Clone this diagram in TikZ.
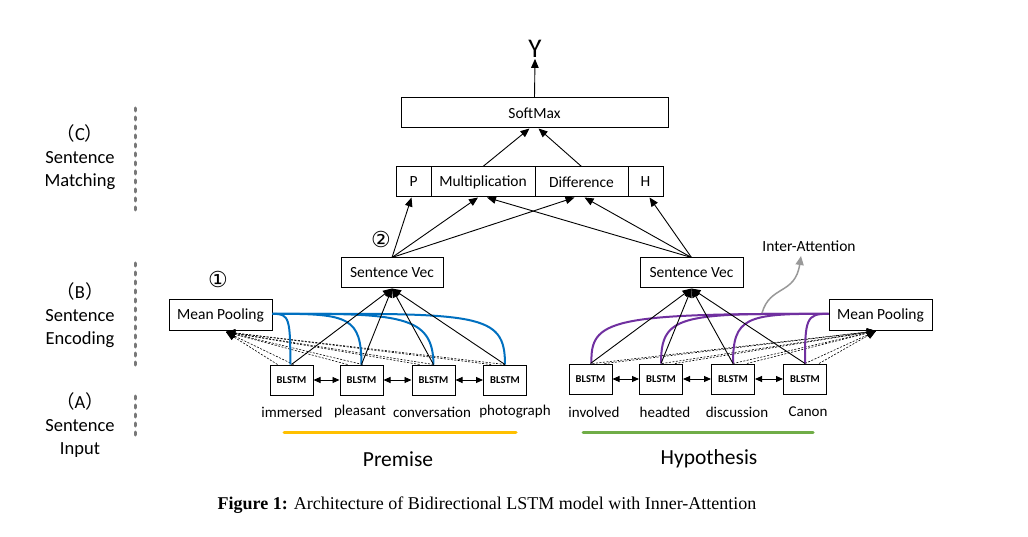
\documentclass[tikz,border=0pt]{standalone}
\usepackage{fontspec}
\setmainfont{Carlito}
\newfontfamily\tnr{Liberation Serif}
\newfontfamily\dvs{DejaVu Sans}
\newfontfamily\cjk{Noto Sans CJK SC}
\usetikzlibrary{arrows.meta,calc}
\definecolor{mpblue}{RGB}{0,112,192}
\definecolor{mppurple}{RGB}{112,48,160}
\definecolor{premyellow}{RGB}{255,192,0}
\definecolor{hypgreen}{RGB}{112,173,71}
\definecolor{dotgray}{RGB}{120,120,120}
\tikzset{
  box/.style={draw,line width=1pt,inner sep=0pt,font=\fontsize{15.5}{17}\selectfont},
  lstm/.style={draw,line width=1pt,minimum width=43pt,minimum height=30pt,inner sep=0pt,font=\fontsize{10.5}{12}\selectfont\bfseries},
  arr/.style={-{Triangle[length=9pt,width=7.5pt]},line width=0.9pt},
  darr/.style={{Triangle[length=7pt,width=6pt]}-{Triangle[length=7pt,width=6pt]},line width=0.9pt},
  dash arr/.style={-{Triangle[length=9pt,width=7.5pt]},line width=0.6pt,dash pattern=on 2pt off 1.5pt},
  word/.style={font=\fontsize{15}{17}\selectfont},
  side/.style={font=\fontsize{18.5}{23}\selectfont,align=center},
  dotline/.style={dotgray,line width=3pt,line cap=round,dash pattern=on 3pt off 6pt},
  blueline/.style={mpblue,line width=2pt},
  purpline/.style={mppurple,line width=2pt},
  circ/.style={font=\dvs\fontsize{22}{24}\selectfont},
}
\begin{document}
\begin{tikzpicture}[x=1pt,y=-1pt]
\useasboundingbox[fill=white] (0,0) rectangle (1028,537);

% side labels
\node[side] (lc) at (80,157) {{\cjk （}C{\cjk ）}\\Sentence\\Matching};
\node[side] (lb) at (80,315) {{\cjk （}B{\cjk ）}\\Sentence\\Encoding};
\node[side] (la) at (80,425) {{\cjk （}A{\cjk ）}\\Sentence\\Input};
\coordinate (dc1) at (135,108); \coordinate (dc2) at (135,213);
\coordinate (db1) at (135,263); \coordinate (db2) at (135,365);
\coordinate (da1) at (135,396); \coordinate (da2) at (135,440);
\draw[dotline] (dc1) -- (dc2);
\draw[dotline] (db1) -- (db2);
\draw[dotline] (da1) -- (da2);

% top
\node[font=\fontsize{27}{29}\selectfont,inner sep=1pt] (y) at (535,49) {Y};
\node[box,minimum width=267pt,minimum height=30pt] (soft) at (534.5,113) {SoftMax};
\node[box,minimum width=35pt,minimum height=30pt] (p) at (413.5,182) {P};
\node[box,minimum width=104pt,minimum height=30pt] (mul) at (483,182) {Multiplication};
\node[box,minimum width=93pt,minimum height=30pt] (dif) at (581.5,182) {Difference};
\node[box,minimum width=35pt,minimum height=30pt] (h) at (645.5,182) {H};
\draw[arr] (soft.north) -- (y.south);
\draw[arr] (mul.north) -- ($(soft.south)+(-5,0)$);
\draw[arr] (dif.north) -- ($(soft.south)+(4,0)$);

% sentence vectors
\node[box,minimum width=102pt,minimum height=30pt] (svl) at (392,273) {Sentence Vec};
\node[box,minimum width=103pt,minimum height=30pt] (svr) at (691.5,273) {Sentence Vec};
\node[circ] (c2) at (381,239) {②};
\node[circ] (c1) at (218,279) {①};
\draw[arr] (svl.north) -- ($(p.south)+(-2,0)$);
\draw[arr] (svl.north) -- ($(mul.south)+(-5,0)$);
\draw[arr] (svl.north) -- ($(dif.south)+(-7,0)$);
\draw[arr] (svr.north) -- ($(mul.south)+(4,0)$);
\draw[arr] (svr.north) -- ($(dif.south)+(3,0)$);
\draw[arr] (svr.north) -- ($(h.south)+(4,0)$);

% mean pooling
\node[box,minimum width=103pt,minimum height=30pt] (mpl) at (220.5,315) {Mean Pooling};
\node[box,minimum width=103pt,minimum height=30pt] (mpr) at (880.5,315) {Mean Pooling};

% BLSTMs
\node[lstm] (b1) at (291.5,380) {BLSTM};
\node[lstm] (b2) at (361.5,380) {BLSTM};
\node[lstm] (b3) at (433.5,380) {BLSTM};
\node[lstm] (b4) at (505,380) {BLSTM};
\node[lstm] (b5) at (590.5,379) {BLSTM};
\node[lstm] (b6) at (661,379) {BLSTM};
\node[lstm] (b7) at (733,379) {BLSTM};
\node[lstm] (b8) at (805,379) {BLSTM};
\draw[darr] (b1.east) -- (b2.west);
\draw[darr] (b2.east) -- (b3.west);
\draw[darr] (b3.east) -- (b4.west);
\draw[darr] (b5.east) -- (b6.west);
\draw[darr] (b6.east) -- (b7.west);
\draw[darr] (b7.east) -- (b8.west);

% dashed to mean pooling
\coordinate (mplt) at (226,332);
\coordinate (mprt) at (876,331);
\foreach \b/\d in {b1/2,b2/1,b3/0,b4/0}{
  \draw[dash arr] ($(\b.north)+(\d,0)$) -- (mplt);
  \draw[dash arr] ($(\b.north west)+(8,0)$) -- (mplt);
}
\foreach \b/\d in {b5/2,b6/1,b7/0,b8/0}{
  \draw[dash arr] ($(\b.north)+(\d,0)$) -- (mprt);
  \draw[dash arr] ($(\b.north east)+(-8,0)$) -- (mprt);
}

% blue curves
\draw[blueline] ($(mpl.east)+(0,-1)$) .. controls (290,313) and (290,320) .. ($(b1.north)+(-1,0)$);
\draw[blueline] ($(mpl.east)+(0,-1)$) .. controls (350,313) and (361,318) .. (b2.north);
\draw[blueline] ($(mpl.east)+(0,-1)$) .. controls (400,313) and (433,315) .. (b3.north);
\draw[blueline] ($(mpl.east)+(0,-1)$) .. controls (480,313) and (505,313) .. (b4.north);

% purple curves
\draw[purpline] ($(mpr.west)+(0,-1)$) .. controls (610,313) and (590,320) .. ($(b5.north)+(1,0)$);
\draw[purpline] ($(mpr.west)+(0,-1)$) .. controls (680,313) and (661,315) .. (b6.north);
\draw[purpline] ($(mpr.west)+(0,-1)$) .. controls (745,313) and (733,318) .. (b7.north);
\draw[purpline] ($(mpr.west)+(0,-1)$) .. controls (806,313) and (805,320) .. (b8.north);

% black to sentence vec
\foreach \b in {b1,b2,b3,b4}{
  \draw[arr] (\b.north) -- (svl.south);
}
\foreach \b in {b5,b6,b7,b8}{
  \draw[arr] (\b.north) -- (svr.south);
}

% inter-attention
\node[font=\fontsize{15.5}{17}\selectfont] (ia) at (809,246) {Inter-Attention};
\coordinate (iastart) at (762,313);
\coordinate (iaend) at (801,256);
\draw[-{Triangle[length=9pt,width=8pt]},gray!80,line width=1.5pt] (iastart) .. controls (770,285) and (795,295) .. (iaend);

% words
\node[word] (w1) at (292,412) {immersed};
\node[word] (w2) at (360,412) {pleasant};
\node[word] (w3) at (432,412) {conversation};
\node[word] (w4) at (515,412) {photograph};
\node[word] (w5) at (594,412) {involved};
\node[word] (w6) at (665,412) {headted};
\node[word] (w7) at (737,412) {discussion};
\node[word] (w8) at (808,412) {Canon};

\coordinate (yl1) at (284,432); \coordinate (yl2) at (516,432);
\coordinate (gl1) at (583,432); \coordinate (gl2) at (813,432);
\draw[premyellow,line width=3pt,line cap=round] (yl1) -- (yl2);
\draw[hypgreen,line width=3pt,line cap=round] (gl1) -- (gl2);
\node[font=\fontsize{21.5}{24}\selectfont] (prem) at (398,459) {Premise};
\node[font=\fontsize{21.5}{24}\selectfont] (hyp) at (709,459) {Hypothesis};

% caption
\node[font=\tnr\fontsize{18}{20}\selectfont] (cap) at (487,505) {\textbf{Figure 1:} Architecture of Bidirectional LSTM model with Inner-Attention};
\end{tikzpicture}
\end{document}
